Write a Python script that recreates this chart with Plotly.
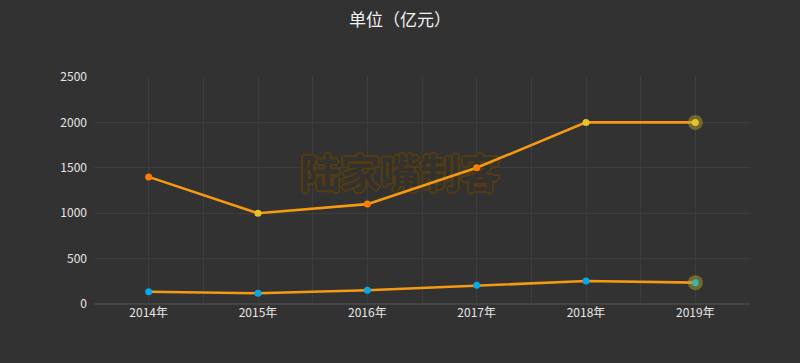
import plotly.graph_objects as go

years = ["2014年", "2015年", "2016年", "2017年", "2018年", "2019年"]
series_a = [1400, 1000, 1100, 1500, 2000, 2000]
series_b = [135, 118, 151, 206, 253, 235]
y_ticks = [0, 500, 1000, 1500, 2000, 2500]

xs = list(range(len(years)))
bg = "#323232"
grid = "#3d3d3d"

colors_a = ["#ff7c00", "#e8c22a", "#ff7c00", "#ff7c00", "#e8c22a", "#e8c22a"]
colors_b = ["#08a8e6"] * len(years)

fig = go.Figure()

# watermark (drawn first, under the lines)
sc = "#533c14"
shadow = ", ".join(f"{dx}px {dy}px 0 {sc}" for dx, dy in
                   [(1, 1), (-1, -1), (1, -1), (-1, 1), (2, 0), (-2, 0), (0, 2), (0, -2)])
fig.add_trace(go.Scatter(x=[2.3], y=[1390], mode="text", text=["陆家嘴制客"],
                         textposition="middle center",
                         textfont=dict(family="Noto Sans CJK SC", size=40, color="#34322e",
                                       weight="bold", shadow=shadow),
                         hoverinfo="skip", showlegend=False))

# lines
fig.add_trace(go.Scatter(x=xs, y=series_a, mode="lines",
                         line=dict(color="#f59a12", width=2.6),
                         hoverinfo="skip", showlegend=False))
fig.add_trace(go.Scatter(x=xs, y=series_b, mode="lines",
                         line=dict(color="#f59a12", width=2.6),
                         hoverinfo="skip", showlegend=False))

# halo on last points
fig.add_trace(go.Scatter(x=[xs[-1], xs[-1]], y=[series_a[-1], series_b[-1]], mode="markers",
                         marker=dict(size=15, color="rgba(190,170,40,0.45)", line=dict(width=0)),
                         hoverinfo="skip", showlegend=False))

# markers
fig.add_trace(go.Scatter(x=xs, y=series_a, mode="markers",
                         marker=dict(size=7, color=colors_a, line=dict(width=0)),
                         showlegend=False))
last_b = colors_b[:-1] + ["#3bb3a8"]
fig.add_trace(go.Scatter(x=xs, y=series_b, mode="markers",
                         marker=dict(size=7, color=last_b, line=dict(width=0)),
                         showlegend=False))

fig.update_layout(
    width=800, height=363,
    paper_bgcolor=bg, plot_bgcolor=bg,
    margin=dict(l=94, r=50, t=77, b=59),
    title=dict(text="单位（亿元）", x=0.5, xanchor="center", y=0.945, yanchor="middle",
               font=dict(family="Noto Sans CJK SC", size=17, color="#f2f2f2")),
    font=dict(family="Noto Sans CJK SC", size=12, color="#e6e6e6"),
    xaxis=dict(range=[-0.5, len(years) - 0.5], tickmode="array", tickvals=xs, ticktext=years,
               showgrid=True, gridcolor=grid, gridwidth=1, zeroline=False,
               minor=dict(tickmode="array", tickvals=[i - 0.5 for i in range(len(years) + 1)],
                          showgrid=True, gridcolor=grid, gridwidth=1, ticks=""),
               showline=False, ticks="", tickfont=dict(size=12, color="#e6e6e6"), fixedrange=True),
    yaxis=dict(range=[0, 2500], tickmode="array", tickvals=y_ticks,
               showgrid=True, gridcolor=grid, gridwidth=1, zeroline=True, zerolinecolor="#444444",
               showline=False, ticks="", ticklabelstandoff=6,
               tickfont=dict(size=12, color="#e6e6e6"), fixedrange=True),
)

fig.write_html("out.html", config={"displayModeBar": False},
               post_script="document.body.style.margin='0';document.body.style.background='#323232';")
